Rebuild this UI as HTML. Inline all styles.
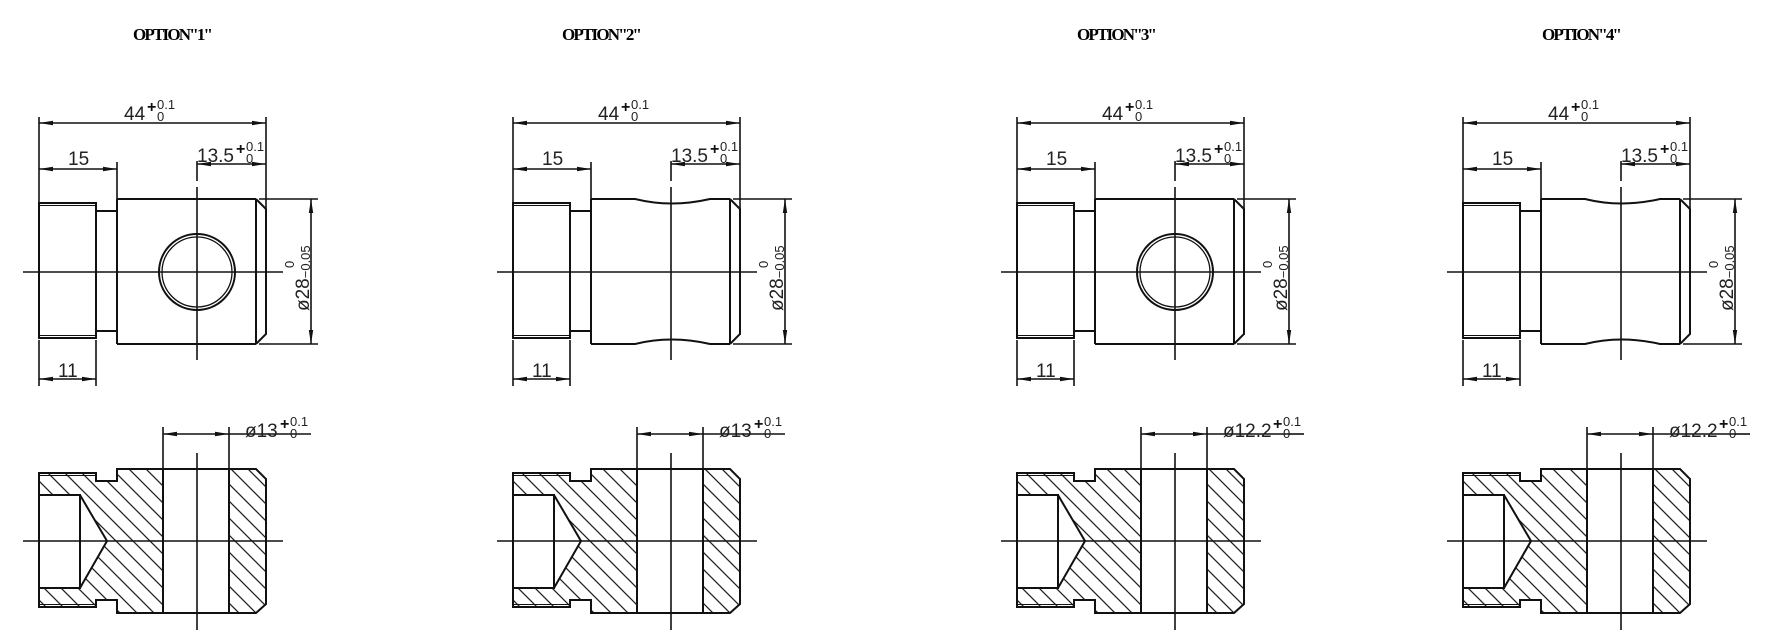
<!DOCTYPE html>
<html><head><meta charset="utf-8"><style>
html,body{margin:0;padding:0;background:#fff;}
svg{display:block;}
.t{font-family:"Liberation Serif",serif;font-weight:bold;font-size:17px;}
.d{font-family:"Liberation Sans","DejaVu Sans",sans-serif;font-size:19px;fill:#222;}
.s{font-family:"Liberation Sans","DejaVu Sans",sans-serif;font-size:13px;fill:#222;}
.p{font-family:"Liberation Sans","DejaVu Sans",sans-serif;font-size:16px;font-weight:bold;fill:#111;}
</style></head><body>
<svg width="1776" height="637" viewBox="0 0 1776 637" xmlns="http://www.w3.org/2000/svg">
<defs>
<marker id="a" viewBox="0 0 14 6" refX="14" refY="3" markerWidth="14" markerHeight="6" markerUnits="userSpaceOnUse" orient="auto-start-reverse">
<path d="M0,0.8 L14,3 L0,5.2 Z" fill="#111"/></marker>
<pattern id="h" patternUnits="userSpaceOnUse" width="17" height="17">
<path d="M-2,-2 L19,19 M-2,15 L2,19 M15,-2 L19,2" stroke="#222" stroke-width="1.3"/></pattern>
<g id="common" fill="none" stroke="#111">
 <g stroke-width="1.6">
  <line x1="39" y1="117" x2="39" y2="205"/><line x1="266" y1="117" x2="266" y2="209"/>
  <line x1="39" y1="123" x2="266" y2="123" marker-start="url(#a)" marker-end="url(#a)"/>
  <line x1="117" y1="162" x2="117" y2="199"/>
  <line x1="39" y1="169" x2="117" y2="169" marker-start="url(#a)" marker-end="url(#a)"/>
  <line x1="197" y1="161" x2="197" y2="181"/>
  <line x1="197" y1="164" x2="266" y2="164" marker-start="url(#a)" marker-end="url(#a)"/>
  <line x1="259" y1="199" x2="318" y2="199"/><line x1="259" y1="344" x2="318" y2="344"/>
  <line x1="311" y1="199" x2="311" y2="344" marker-start="url(#a)" marker-end="url(#a)"/>
  <line x1="39" y1="340" x2="39" y2="386"/><line x1="96" y1="340" x2="96" y2="386"/>
  <line x1="39" y1="379" x2="96" y2="379" marker-start="url(#a)" marker-end="url(#a)"/>
  <line x1="23" y1="272" x2="283" y2="272"/>
  <line x1="197" y1="187" x2="197" y2="360"/>
 </g>
 <g stroke-width="2">
  <rect x="39" y="203" width="57" height="135"/>
  <line x1="40" y1="205.5" x2="95" y2="205.5" stroke-width="1"/>
  <line x1="40" y1="335.5" x2="95" y2="335.5" stroke-width="1"/>
  <path d="M96,211 H117 M96,331 H117"/>
  <path d="M117,199 V344 M256,199 V344 M256,199 L266,209 V334 L256,344"/>
 </g>
 <path fill="url(#h)" stroke="none" fill-rule="evenodd" d="M39,473 H96 V481 H117 V469 H163 V613 H117 V600 H96 V607 H39 Z M39,495 H80 L107,541 L80,588 H39 Z"/>
 <path fill="url(#h)" stroke="none" d="M229,469 H256 L266,479 V604 L256,613 H229 Z"/>
 <g stroke-width="2">
  <path d="M39,473 H96 V481 H117 V469 H256 L266,479 V604 L256,613 H117 V600 H96 V607 H39 Z"/>
  <line x1="40" y1="475.5" x2="95" y2="475.5" stroke-width="1"/>
  <line x1="40" y1="604.5" x2="95" y2="604.5" stroke-width="1"/>
  <path d="M39,495 H80 V588 H39 M80,495 L107,541 L80,588"/>
  <path d="M163,469 V613 M229,469 V613"/>
 </g>
 <g stroke-width="1.6">
  <line x1="163" y1="427" x2="163" y2="469"/><line x1="229" y1="427" x2="229" y2="469"/>
  <line x1="163" y1="434" x2="229" y2="434" marker-start="url(#a)" marker-end="url(#a)"/>
  <line x1="229" y1="434" x2="311" y2="434"/>
  <line x1="23" y1="541" x2="283" y2="541"/>
  <line x1="197" y1="453" x2="197" y2="630"/>
 </g>
</g>
<g id="flat" fill="none" stroke="#111" stroke-width="2">
 <path d="M117,199 H256 M117,344 H256"/>
 <circle cx="197" cy="272" r="38"/><circle cx="197" cy="272" r="35" stroke-width="1.3"/>
</g>
<g id="wave" fill="none" stroke="#111" stroke-width="2">
 <path d="M117,199 H161 Q197,208 236,199 H256 M117,344 H161 Q197,335 236,344 H256"/>
</g>
</defs>

<text class="t" x="173" y="40" text-anchor="middle" textLength="80">OPTION"1"</text>
<g><use href="#common"/><use href="#flat"/></g>
<text class="t" x="602" y="40" text-anchor="middle" textLength="80">OPTION"2"</text>
<g transform="translate(474,0)"><use href="#common"/><use href="#wave"/></g>
<text class="t" x="1117" y="40" text-anchor="middle" textLength="80">OPTION"3"</text>
<g transform="translate(978,0)"><use href="#common"/><use href="#flat"/></g>
<text class="t" x="1582" y="40" text-anchor="middle" textLength="80">OPTION"4"</text>
<g transform="translate(1424,0)"><use href="#common"/><use href="#wave"/></g>

<g transform="translate(0,0)">
 <text class="d" x="124" y="120">44</text><text class="p" x="147" y="112">+</text><text class="s" x="157" y="109">0.1</text><text class="s" x="157" y="121">0</text>
 <text class="d" x="68" y="165">15</text>
 <text class="d" x="197" y="162">13.5</text><text class="p" x="236" y="154">+</text><text class="s" x="246" y="151">0.1</text><text class="s" x="246" y="163">0</text>
 <text class="d" transform="translate(309,311) rotate(-90)">ø28<tspan class="s" dy="1">−0.05</tspan></text>
 <text class="s" transform="translate(294,268) rotate(-90)">0</text>
 <text class="d" x="58" y="377">11</text>
 <text class="d" x="245" y="437">ø13</text><text class="p" x="280" y="429">+</text><text class="s" x="290" y="426">0.1</text><text class="s" x="290" y="438">0</text>
</g>
<g transform="translate(474,0)">
 <text class="d" x="124" y="120">44</text><text class="p" x="147" y="112">+</text><text class="s" x="157" y="109">0.1</text><text class="s" x="157" y="121">0</text>
 <text class="d" x="68" y="165">15</text>
 <text class="d" x="197" y="162">13.5</text><text class="p" x="236" y="154">+</text><text class="s" x="246" y="151">0.1</text><text class="s" x="246" y="163">0</text>
 <text class="d" transform="translate(309,311) rotate(-90)">ø28<tspan class="s" dy="1">−0.05</tspan></text>
 <text class="s" transform="translate(294,268) rotate(-90)">0</text>
 <text class="d" x="58" y="377">11</text>
 <text class="d" x="245" y="437">ø13</text><text class="p" x="280" y="429">+</text><text class="s" x="290" y="426">0.1</text><text class="s" x="290" y="438">0</text>
</g>
<g transform="translate(978,0)">
 <text class="d" x="124" y="120">44</text><text class="p" x="147" y="112">+</text><text class="s" x="157" y="109">0.1</text><text class="s" x="157" y="121">0</text>
 <text class="d" x="68" y="165">15</text>
 <text class="d" x="197" y="162">13.5</text><text class="p" x="236" y="154">+</text><text class="s" x="246" y="151">0.1</text><text class="s" x="246" y="163">0</text>
 <text class="d" transform="translate(309,311) rotate(-90)">ø28<tspan class="s" dy="1">−0.05</tspan></text>
 <text class="s" transform="translate(294,268) rotate(-90)">0</text>
 <text class="d" x="58" y="377">11</text>
 <text class="d" x="245" y="437">ø12.2</text><text class="p" x="295" y="429">+</text><text class="s" x="305" y="426">0.1</text><text class="s" x="305" y="438">0</text>
 <line x1="311" y1="434" x2="326" y2="434" stroke="#111" stroke-width="1.6"/>
</g>
<g transform="translate(1424,0)">
 <text class="d" x="124" y="120">44</text><text class="p" x="147" y="112">+</text><text class="s" x="157" y="109">0.1</text><text class="s" x="157" y="121">0</text>
 <text class="d" x="68" y="165">15</text>
 <text class="d" x="197" y="162">13.5</text><text class="p" x="236" y="154">+</text><text class="s" x="246" y="151">0.1</text><text class="s" x="246" y="163">0</text>
 <text class="d" transform="translate(309,311) rotate(-90)">ø28<tspan class="s" dy="1">−0.05</tspan></text>
 <text class="s" transform="translate(294,268) rotate(-90)">0</text>
 <text class="d" x="58" y="377">11</text>
 <text class="d" x="245" y="437">ø12.2</text><text class="p" x="295" y="429">+</text><text class="s" x="305" y="426">0.1</text><text class="s" x="305" y="438">0</text>
 <line x1="311" y1="434" x2="326" y2="434" stroke="#111" stroke-width="1.6"/>
</g>
</svg>
</body></html>
